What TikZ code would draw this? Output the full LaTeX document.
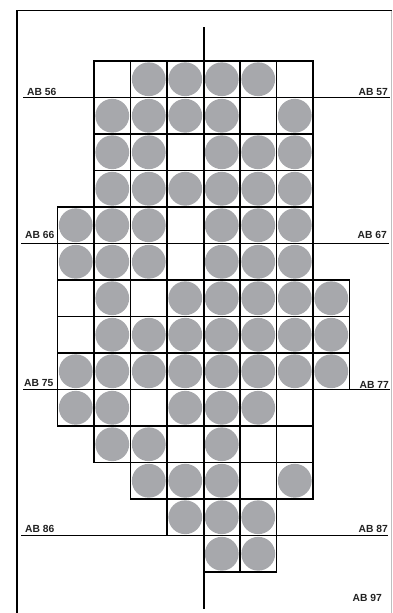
\documentclass[tikz,border=0pt]{standalone}
\usepackage{fontspec}
\setmainfont{Liberation Sans}
\definecolor{dotgray}{HTML}{A7A8AC}
\definecolor{labelink}{HTML}{222222}
\begin{document}
\begin{tikzpicture}[x=1pt,y=-1pt,
  cellbox/.style={draw=black,line width=1.8pt},
  dot/.style={fill=dotgray,draw=none},
  refline/.style={draw=black,line width=1.4pt},
  framel/.style={draw=black,line width=1.3pt},
  lbl/.style={inner sep=0pt,font=\fontsize{10.3}{12}\selectfont\bfseries,text=labelink}]
\useasboundingbox (0,0) rectangle (392,613);
\fill[white] (0,0) rectangle (392,613);
% frame
\draw[framel] (17,613) -- (17,10.5) -- (392,10.5);
\draw[draw=black!25,line width=0.8pt] (391.5,10.5) -- (391.5,613);
\def\cs{36.5}
\newcommand{\cellat}[3]{%
  \pgfmathsetmacro\xa{57.5+\cs*#1}%
  \pgfmathsetmacro\ya{61+\cs*#2}%
  \ifnum#3=1 \fill[dot] (\xa+\cs/2,\ya+\cs/2) circle (16.9);\fi
  \draw[cellbox] (\xa,\ya) rectangle ++(\cs,\cs);}
\foreach \c/\f in {1/0,2/1,3/1,4/1,5/1,6/0} {\cellat{\c}{0}{\f}}
\foreach \c/\f in {1/1,2/1,3/1,4/1,5/0,6/1} {\cellat{\c}{1}{\f}}
\foreach \c/\f in {1/1,2/1,3/0,4/1,5/1,6/1} {\cellat{\c}{2}{\f}}
\foreach \c/\f in {1/1,2/1,3/1,4/1,5/1,6/1} {\cellat{\c}{3}{\f}}
\foreach \c/\f in {0/1,1/1,2/1,3/0,4/1,5/1,6/1} {\cellat{\c}{4}{\f}}
\foreach \c/\f in {0/1,1/1,2/1,3/0,4/1,5/1,6/1} {\cellat{\c}{5}{\f}}
\foreach \c/\f in {0/0,1/1,2/0,3/1,4/1,5/1,6/1,7/1} {\cellat{\c}{6}{\f}}
\foreach \c/\f in {0/0,1/1,2/1,3/1,4/1,5/1,6/1,7/1} {\cellat{\c}{7}{\f}}
\foreach \c/\f in {0/1,1/1,2/1,3/1,4/1,5/1,6/1,7/1} {\cellat{\c}{8}{\f}}
\foreach \c/\f in {0/1,1/1,2/0,3/1,4/1,5/1,6/0} {\cellat{\c}{9}{\f}}
\foreach \c/\f in {1/1,2/1,3/0,4/1,5/0,6/0} {\cellat{\c}{10}{\f}}
\foreach \c/\f in {2/1,3/1,4/1,5/0,6/1} {\cellat{\c}{11}{\f}}
\foreach \c/\f in {3/1,4/1,5/1} {\cellat{\c}{12}{\f}}
\foreach \c/\f in {4/1,5/1} {\cellat{\c}{13}{\f}}
% reference lines
\coordinate (vt) at (204,27);
\coordinate (vb) at (204,609);
\draw[refline] (vt) -- (vb);
\coordinate (l56) at (23,97.5);  \coordinate (r57) at (390,97.5);
\coordinate (l66) at (21,243.5); \coordinate (r67) at (389,243.5);
\coordinate (l75) at (23,389.5); \coordinate (r77) at (390,389.5);
\coordinate (l86) at (21,535.5); \coordinate (r87) at (388,535.5);
\draw[refline] (l56) -- (r57);
\draw[refline] (l66) -- (r67);
\draw[refline] (l75) -- (r77);
\draw[refline] (l86) -- (r87);
% labels
\node[lbl,anchor=base west] (t56) at (27,95) {AB 56};
\node[lbl,anchor=base east] (t57) at (388,95) {AB 57};
\node[lbl,anchor=base west] (t66) at (25,238.5) {AB 66};
\node[lbl,anchor=base east] (t67) at (387,238.5) {AB 67};
\node[lbl,anchor=base west] (t75) at (24,386.5) {AB 75};
\node[lbl,anchor=base east] (t77) at (389,388) {AB 77};
\node[lbl,anchor=base west] (t86) at (25,532.5) {AB 86};
\node[lbl,anchor=base east] (t87) at (388,532.5) {AB 87};
\node[lbl,anchor=base east] (t97) at (382,601.5) {AB 97};
\end{tikzpicture}
\end{document}
